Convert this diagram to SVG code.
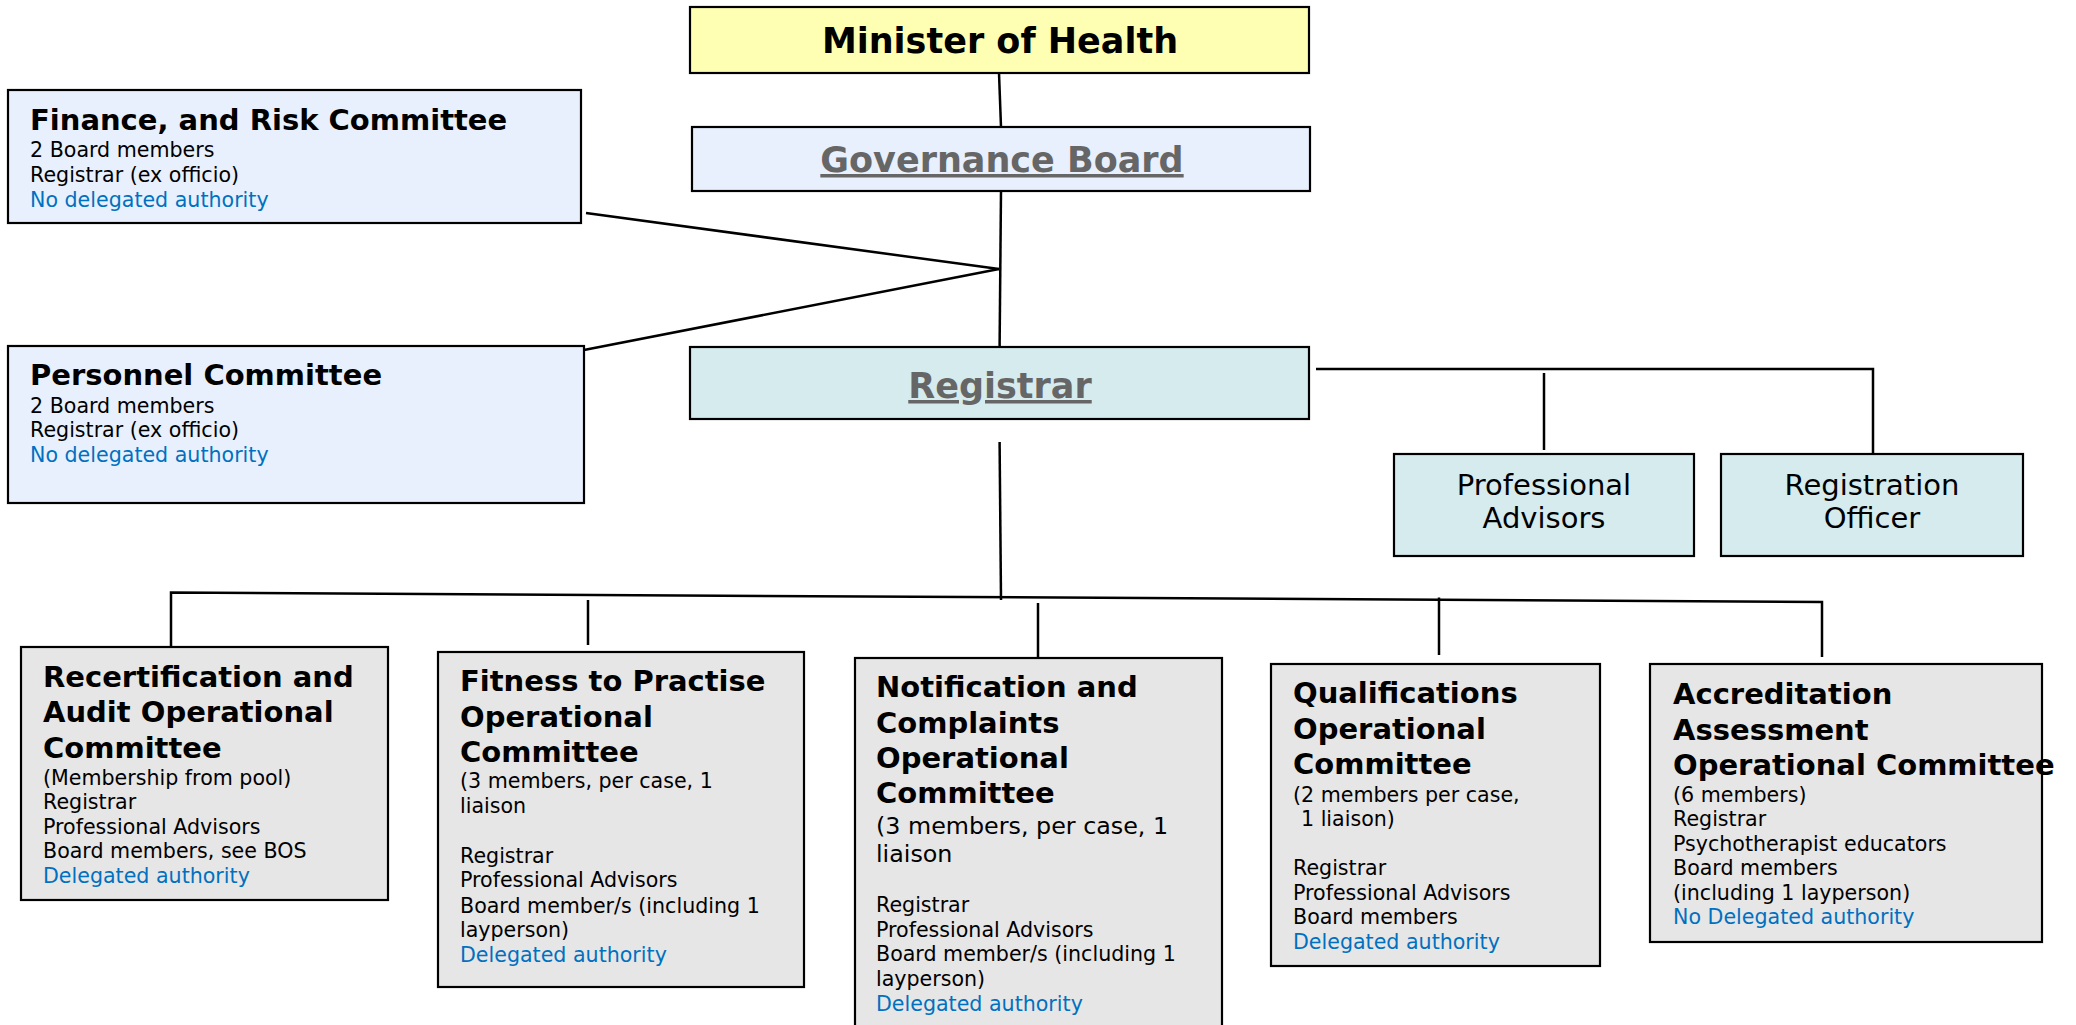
<svg xmlns="http://www.w3.org/2000/svg" width="2076" height="1025" viewBox="0 0 2076 1025">
<style>
  text { font-family: "DejaVu Sans", Verdana, "Liberation Sans", sans-serif; fill: #000; }
  .box { stroke: #000; stroke-width: 2.2; }
  .yellow { fill: #FFFFB3; }
  .blue { fill: #E8F0FD; }
  .teal { fill: #D5EBEE; }
  .grey { fill: #E6E6E6; }
  .top { font-size: 35px; font-weight: bold; text-anchor: middle; }
  .link { fill: #666666; text-decoration: underline; }
  .h1 { font-size: 29px; font-weight: bold; }
  .body { font-size: 20.6px; }
  .big { font-size: 23.8px; }
  .auth { fill: #0070C0; }
  .mid { font-size: 29px; text-anchor: middle; }
  .conn line, .conn polyline { stroke: #000; stroke-width: 2.5; fill: none; }
</style>

<g id="connectors" class="conn">
  <line x1="999" y1="73" x2="1001" y2="127"/>
  <line x1="1001" y1="191" x2="999.6" y2="347"/>
  <line x1="586" y1="213" x2="999" y2="269"/>
  <line x1="584" y1="350" x2="999" y2="269"/>
  <polyline points="1316,369 1873,369 1873,454"/>
  <line x1="1544" y1="373" x2="1544" y2="450"/>
  <line x1="999.6" y1="442" x2="1001" y2="600"/>
  <polyline points="171,646 171,592.5 1822,602 1822,657"/>
  <line x1="588" y1="600" x2="588" y2="645"/>
  <line x1="1038" y1="603" x2="1038" y2="657"/>
  <line x1="1439" y1="597.5" x2="1439" y2="655"/>
</g>

<g id="minister">
  <rect class="box yellow" x="690" y="7" width="619" height="66"/>
  <text class="top" x="1000" y="53">Minister of Health</text>
</g>

<g id="governance-board">
  <rect class="box blue" x="692" y="127" width="618" height="64"/>
  <text class="top link" x="1002" y="172">Governance Board</text>
</g>

<g id="registrar">
  <rect class="box teal" x="690" y="347" width="619" height="72"/>
  <text class="top link" x="1000" y="398">Registrar</text>
</g>

<g id="finance-risk">
  <rect class="box blue" x="8" y="90" width="573" height="133"/>
  <text class="h1" x="30" y="130">Finance, and Risk Committee</text>
  <text class="body" x="30" y="157">2 Board members</text>
  <text class="body" x="30" y="182">Registrar (ex officio)</text>
  <text class="body auth" x="30" y="207">No delegated authority</text>
</g>

<g id="personnel">
  <rect class="box blue" x="8" y="346" width="576" height="157"/>
  <text class="h1" x="30" y="385">Personnel Committee</text>
  <text class="body" x="30" y="413">2 Board members</text>
  <text class="body" x="30" y="437">Registrar (ex officio)</text>
  <text class="body auth" x="30" y="462">No delegated authority</text>
</g>

<g id="professional-advisors">
  <rect class="box teal" x="1394" y="454" width="300" height="102"/>
  <text class="mid" x="1544" y="495">Professional</text>
  <text class="mid" x="1544" y="528">Advisors</text>
</g>

<g id="registration-officer">
  <rect class="box teal" x="1721" y="454" width="302" height="102"/>
  <text class="mid" x="1872" y="495">Registration</text>
  <text class="mid" x="1872" y="528">Officer</text>
</g>

<g id="recertification">
  <rect class="box grey" x="21" y="647" width="367" height="253"/>
  <text class="h1" x="43" y="687">Recertification and</text>
  <text class="h1" x="43" y="722">Audit Operational</text>
  <text class="h1" x="43" y="758">Committee</text>
  <text class="body" x="43" y="785">(Membership from pool)</text>
  <text class="body" x="43" y="809">Registrar</text>
  <text class="body" x="43" y="834">Professional Advisors</text>
  <text class="body" x="43" y="858">Board members, see BOS</text>
  <text class="body auth" x="43" y="883">Delegated authority</text>
</g>

<g id="fitness-to-practise">
  <rect class="box grey" x="438" y="652" width="366" height="335"/>
  <text class="h1" x="460" y="691">Fitness to Practise</text>
  <text class="h1" x="460" y="727">Operational</text>
  <text class="h1" x="460" y="762">Committee</text>
  <text class="body" x="460" y="788">(3 members, per case, 1</text>
  <text class="body" x="460" y="813">liaison</text>
  <text class="body" x="460" y="863">Registrar</text>
  <text class="body" x="460" y="887">Professional Advisors</text>
  <text class="body" x="460" y="913">Board member/s (including 1</text>
  <text class="body" x="460" y="937">layperson)</text>
  <text class="body auth" x="460" y="962">Delegated authority</text>
</g>

<g id="notification-complaints">
  <rect class="box grey" x="855" y="658" width="367" height="380"/>
  <text class="h1" x="876" y="697">Notification and</text>
  <text class="h1" x="876" y="733">Complaints</text>
  <text class="h1" x="876" y="768">Operational</text>
  <text class="h1" x="876" y="803">Committee</text>
  <text class="big" x="876" y="834">(3 members, per case, 1</text>
  <text class="big" x="876" y="862">liaison</text>
  <text class="body" x="876" y="912">Registrar</text>
  <text class="body" x="876" y="937">Professional Advisors</text>
  <text class="body" x="876" y="961">Board member/s (including 1</text>
  <text class="body" x="876" y="986">layperson)</text>
  <text class="body auth" x="876" y="1011">Delegated authority</text>
</g>

<g id="qualifications">
  <rect class="box grey" x="1271" y="664" width="329" height="302"/>
  <text class="h1" x="1293" y="703">Qualifications</text>
  <text class="h1" x="1293" y="739">Operational</text>
  <text class="h1" x="1293" y="774">Committee</text>
  <text class="body" x="1293" y="802">(2 members per case,</text>
  <text class="body" x="1301" y="826">1 liaison)</text>
  <text class="body" x="1293" y="875">Registrar</text>
  <text class="body" x="1293" y="900">Professional Advisors</text>
  <text class="body" x="1293" y="924">Board members</text>
  <text class="body auth" x="1293" y="949">Delegated authority</text>
</g>

<g id="accreditation-assessment">
  <rect class="box grey" x="1650" y="664" width="392" height="278"/>
  <text class="h1" x="1673" y="704">Accreditation</text>
  <text class="h1" x="1673" y="740">Assessment</text>
  <text class="h1" x="1673" y="775">Operational Committee</text>
  <text class="body" x="1673" y="802">(6 members)</text>
  <text class="body" x="1673" y="826">Registrar</text>
  <text class="body" x="1673" y="851">Psychotherapist educators</text>
  <text class="body" x="1673" y="875">Board members</text>
  <text class="body" x="1673" y="900">(including 1 layperson)</text>
  <text class="body auth" x="1673" y="924">No Delegated authority</text>
</g>
</svg>
